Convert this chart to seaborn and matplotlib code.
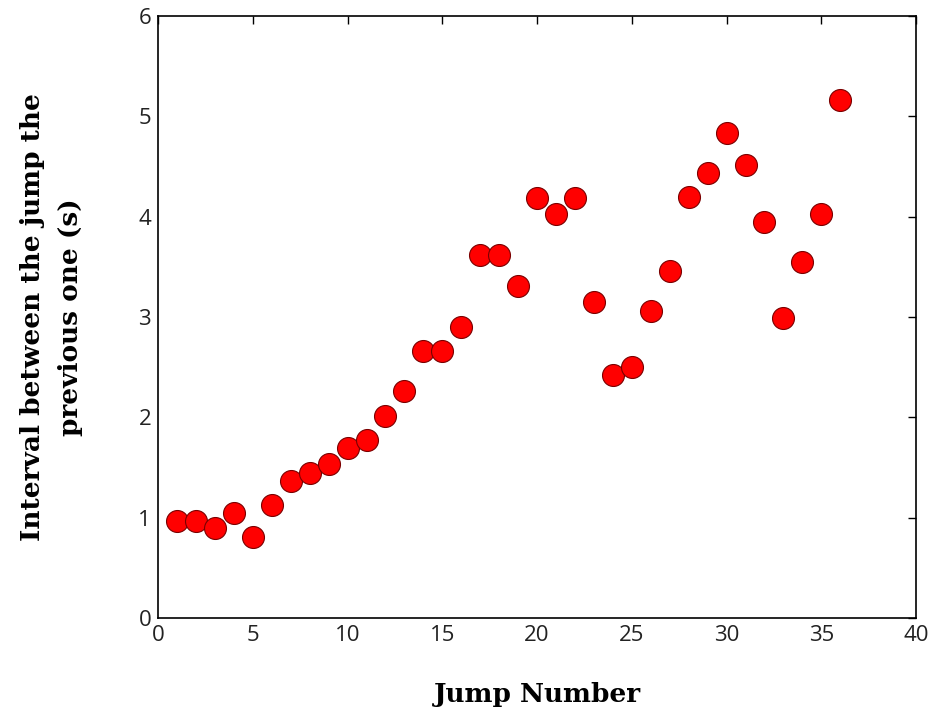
import matplotlib
matplotlib.use("Agg")
import matplotlib.pyplot as plt
import seaborn as sns
import pandas as pd

jump_number = list(range(1, 37))
interval = [0.97, 0.97, 0.90, 1.05, 0.81, 1.13, 1.37, 1.45, 1.54, 1.69, 1.77, 2.01,
            2.26, 2.66, 2.66, 2.90, 3.62, 3.62, 3.31, 4.18, 4.03, 4.18, 3.15, 2.42,
            2.50, 3.06, 3.46, 4.19, 4.43, 4.83, 4.51, 3.95, 2.99, 3.55, 4.03, 5.16]
x_ticks = [0, 5, 10, 15, 20, 25, 30, 35, 40]
y_ticks = [0, 1, 2, 3, 4, 5, 6]

df = pd.DataFrame({"Jump": jump_number, "Interval": interval})

sns.set_style("white")
plt.rcParams["font.family"] = ["Open Sans", "DejaVu Sans"]

fig = plt.figure(figsize=(9.3, 7.13), dpi=100)
ax = fig.add_axes([0.170, 0.133, 0.815, 0.845])

sns.scatterplot(data=df, x="Jump", y="Interval", ax=ax, s=250, color="#ff0000",
                edgecolor="#7a0000", linewidth=0.8, zorder=3)

ax.set_xlim(0, 40)
ax.set_ylim(0, 6)
ax.set_xticks(x_ticks)
ax.set_yticks(y_ticks)
ax.tick_params(direction="in", length=6, width=1, top=True, right=True,
               labelsize=16, colors="black", labelcolor="#222222", pad=5)
for sp in ax.spines.values():
    sp.set_visible(True)
    sp.set_color("black")
    sp.set_linewidth(1.2)

label_font = dict(family=["DejaVu Serif"], fontweight="bold", fontsize=19, color="black")
ax.set_xlabel("Jump Number", labelpad=26, **label_font)
ax.set_ylabel("Interval between the jump the\nprevious one (s)",
              labelpad=40, linespacing=1.65, **label_font)

fig.savefig("out.png", dpi=100)
